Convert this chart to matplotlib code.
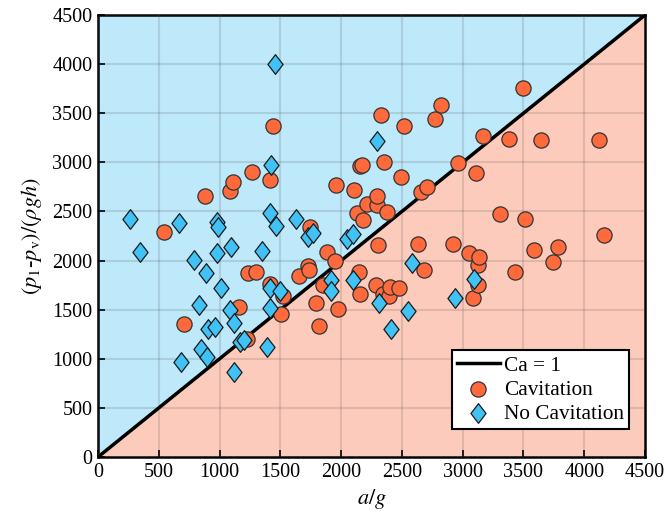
import numpy as np
import matplotlib
matplotlib.use('Agg')
import matplotlib.pyplot as plt
from matplotlib.path import Path

plt.rcParams['font.family'] = 'Liberation Serif'
plt.rcParams['mathtext.fontset'] = 'stix'

# cavitation points (a/g, (p1-pv)/(rho g h))
cav_x = [543, 710, 883, 1086, 1113, 1160, 1231, 1267, 1297, 1415, 1440, 1415, 1503,
         1519, 1654, 1725, 1738, 1744, 1793, 1815, 1848, 1881, 1950, 1958, 1977,
         2109, 2128, 2150, 2155, 2158, 2169, 2183, 2210, 2287, 2292, 2295, 2306,
         2325, 2342, 2350, 2375, 2397, 2402, 2479, 2490, 2520, 2630, 2660, 2684,
         2709, 2772, 2824, 2920, 2959, 3055, 3087, 3107, 3129, 3129, 3137, 3170,
         3307, 3378, 3430, 3494, 3515, 3587, 3642, 3746, 3787, 4119, 4162, 1223]
cav_y = [2289, 1354, 2658, 2712, 2797, 1527, 1872, 2902, 1883, 2824, 3366, 1764, 1453,
         1636, 1839, 1940, 1900, 2340, 1568, 1331, 1754, 2083, 1994, 2773, 1503,
         2715, 2486, 1883, 1663, 2966, 2970, 2418, 2577, 1747, 2570, 2662, 2154,
         3484, 1663, 3000, 2496, 1636, 1730, 1724, 2848, 3370, 2167, 2699, 1906,
         2753, 3444, 3579, 2171, 2994, 2079, 1615, 2888, 1950, 1747, 2035, 3268,
         2472, 3234, 1883, 3756, 2421, 2103, 3224, 1984, 2137, 3227, 2260, 1202]

# no cavitation points
nocav_x = [266, 348, 664, 680, 790, 833, 847, 891, 899, 907, 962, 981, 990, 981,
           1014, 1086, 1094, 1119, 1121, 1168, 1201, 1352, 1393, 1415, 1415, 1418,
           1423, 1459, 1464, 1495, 1631, 1725, 1766, 1919, 1919, 2046, 2098, 2100,
           2298, 2309, 2408, 2553, 2586, 2939, 3096]
nocav_y = [2421, 2086, 2380, 972, 2008, 1547, 1097, 1869, 1016, 1304, 1324, 2397,
           2340, 2079, 1720, 1493, 2143, 863, 1368, 1171, 1189, 2093, 1117, 2489,
           1724, 1514, 2973, 3999, 2347, 1686, 2428, 2238, 2279, 1805, 1690, 2222,
           2273, 1798, 3220, 1568, 1307, 1486, 1974, 1622, 1815]

lim = 4500

# slightly tall diamond like matlab's
diamond = Path([(0, 1), (0.77, 0), (0, -1), (-0.77, 0), (0, 1)],
               [Path.MOVETO, Path.LINETO, Path.LINETO, Path.LINETO, Path.CLOSEPOLY])

fig = plt.figure(figsize=(6.68, 5.16), dpi=100)
ax = fig.add_axes([0.1467, 0.1143, 0.8189, 0.8566])

ax.fill_between([0, lim], [0, lim], [lim, lim], color='#BDE9FB', lw=0, zorder=0)
ax.fill_between([0, lim], [0, 0], [0, lim], color='#FDCBBB', lw=0, zorder=0)

ax.grid(True, color='#555555', alpha=0.18, lw=1.5, zorder=1)
ax.set_axisbelow(False)

ax.plot([0, lim], [0, lim], color='black', lw=2.5, label='Ca = 1', zorder=3)
ax.scatter(cav_x, cav_y, s=120, marker='o', facecolor='#FF6A3D', edgecolor='#333333',
           lw=0.9, label='Cavitation', zorder=4)
ax.scatter(nocav_x, nocav_y, s=200, marker=diamond, facecolor='#40C2F6', edgecolor='#1a1a1a',
           lw=0.9, label='No Cavitation', zorder=5)

ax.set_xlim(0, lim)
ax.set_ylim(0, lim)
ax.set_xticks(np.arange(0, 4501, 500))
ax.set_yticks(np.arange(0, 4501, 500))
ax.tick_params(direction='in', length=5, width=1.2, labelsize=14.5, colors='black', pad=4)
for s in ax.spines.values():
    s.set_linewidth(1.8)

ax.set_xlabel(r'$a/g$', fontsize=16, labelpad=4)
ax.set_ylabel(r'$(p_{1}$-$p_{\rm v})/(\rho g h)$', fontsize=16, labelpad=6)

leg = ax.legend(loc='lower right', bbox_to_anchor=(0.971, 0.063), fontsize=15.3,
                fancybox=False, framealpha=1, edgecolor='black', borderpad=0.25,
                handlelength=2.0, handletextpad=0.2, labelspacing=0.2, borderaxespad=0)
leg.get_frame().set_linewidth(1.5)

fig.savefig('out.png', dpi=100)
